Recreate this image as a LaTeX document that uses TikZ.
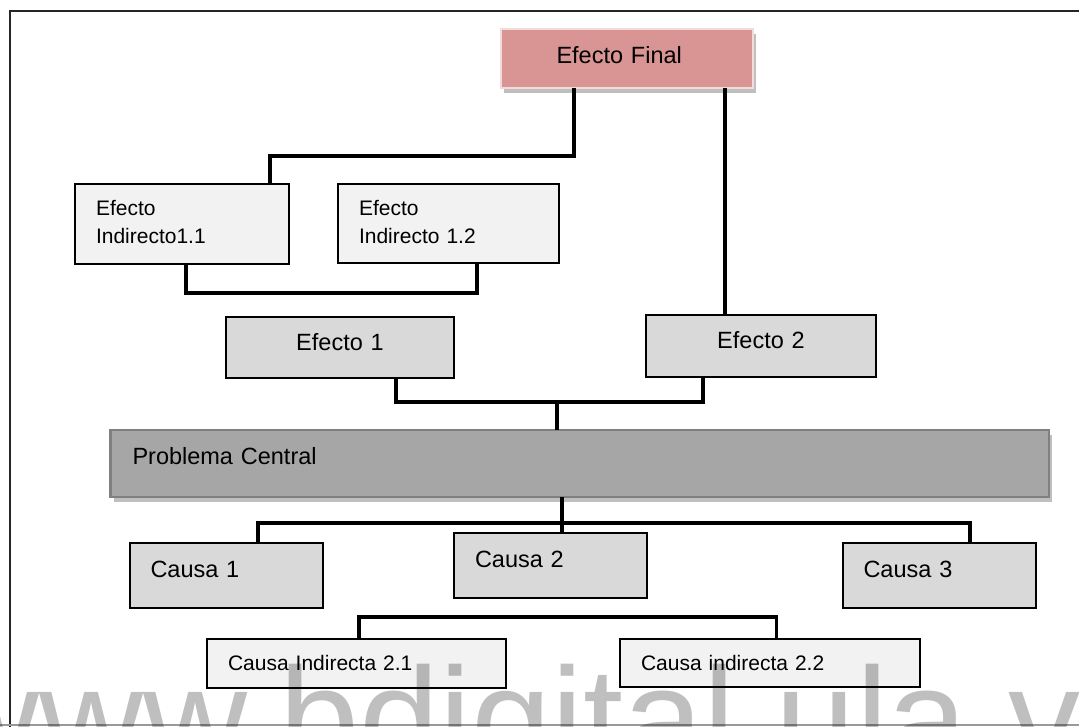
\documentclass[tikz,border=0pt]{standalone}
\usepackage{fontspec}
\setmainfont{Liberation Sans}
\usetikzlibrary{shadows}

\definecolor{rosa}{HTML}{D99594}
\definecolor{rosaborde}{HTML}{F2DCDB}
\definecolor{grismedio}{HTML}{D9D9D9}
\definecolor{grisclaro}{HTML}{F2F2F2}
\definecolor{grisoscuro}{HTML}{A6A6A6}
\definecolor{grisborde}{HTML}{808080}
\definecolor{sombra}{HTML}{BFBFBF}

\tikzset{
  caja/.style={draw, line width=2pt, anchor=north west, outer sep=0pt,
    inner ysep=0pt, align=left, font=\fontsize{23.5}{28}\selectfont},
  cajagris/.style={caja, fill=grismedio},
  cajaind/.style={caja, fill=grisclaro, font=\fontsize{21}{28}\selectfont},
  sombreada/.style={drop shadow={shadow xshift=3pt, shadow yshift=-5pt,
    fill=sombra, opacity=1}},
  enlace/.style={line width=3.4pt},
}

\begin{document}
\begin{tikzpicture}[x=1pt, y=-1pt]
  \clip (0,0) rectangle (1079,726);

  % Marco
  \draw[line width=2.4pt, black!85] (10,11) rectangle (1100,760);
  \draw[line width=1.8pt, black!40] (0,725) -- (1079,725);

  % Efectos
  \node[caja, fill=rosa, draw=rosaborde, line width=2.4pt, sombreada,
    text width=141pt, inner xsep=55.5pt, text height=34pt, text depth=25pt]
    (final) at (501,29) {Efecto Final};
  \node[cajaind, text width=172pt, inner xsep=21pt, text height=31pt, text depth=49pt]
    (ind11) at (75,184) {Efecto\\Indirecto1.1};
  \node[cajaind, text width=179pt, inner xsep=21pt, text height=31pt, text depth=48pt]
    (ind12) at (338,184) {Efecto\\Indirecto 1.2};
  \node[cajagris, text width=228pt, inner xsep=0pt, align=center, text height=33pt, text depth=28pt]
    (ef1) at (226,317) {Efecto 1};
  \node[cajagris, text width=230pt, inner xsep=0pt, align=center, text height=33pt, text depth=29pt]
    (ef2) at (646,315) {Efecto 2};

  % Problema central
  \node[caja, fill=grisoscuro, draw=grisborde, line width=2.4pt, sombreada,
    text width=894.5pt, inner xsep=22pt, text height=34pt, text depth=33pt]
    (prob) at (110.5,430) {Problema Central};

  % Causas
  \node[cajagris, text width=151.5pt, inner xsep=21pt, text height=34pt, text depth=31pt]
    (c1) at (129.5,543) {Causa 1};
  \node[cajagris, text width=150.6pt, inner xsep=21pt, text height=34pt, text depth=31pt]
    (c2) at (454,533) {Causa 2};
  \node[cajagris, text width=151.5pt, inner xsep=21pt, text height=34pt, text depth=31pt]
    (c3) at (842.5,543) {Causa 3};
  \node[cajaind, text width=257pt, inner xsep=21pt, text height=31pt, text depth=18pt]
    (ci21) at (207,639) {Causa Indirecta 2.1};
  \node[cajaind, text width=258pt, inner xsep=21pt, text height=31pt, text depth=17pt]
    (ci22) at (620,639) {Causa indirecta 2.2};

  % Conectores
  \draw[enlace] ([xshift=73pt]final.south west) -- ++(0,68) -| ([xshift=195pt]ind11.north west);
  \draw[enlace] ([xshift=224pt]final.south west) -- ([xshift=79pt]ef2.north west);
  \draw[enlace] ([xshift=111pt]ind11.south west) -- ++(0,29) -| ([xshift=139pt]ind12.south west);
  \draw[enlace] ([xshift=170pt]ef1.south west) -- ++(0,24) -| ([xshift=57pt]ef2.south west);
  \coordinate (ejeE) at (557,402);
  \draw[enlace] (ejeE) -- (ejeE |- prob.north);
  \draw[enlace] ([xshift=451.5pt]prob.south west) -- ([xshift=108pt]c2.north west);
  \draw[enlace] ([xshift=128.5pt]c1.north west) -- ++(0,-20) -| ([xshift=127.5pt]c3.north west);
  \draw[enlace] ([xshift=152pt]ci21.north west) -- ++(0,-22) -| ([xshift=156.5pt]ci22.north west);

  % Marca de agua
  \node[anchor=base west, inner sep=0pt, text=black, text opacity=0.25,
    font=\fontsize{144}{144}\selectfont] (marca) at (-64.5,768) {www.bdigital.ula.ve};
\end{tikzpicture}
\end{document}
